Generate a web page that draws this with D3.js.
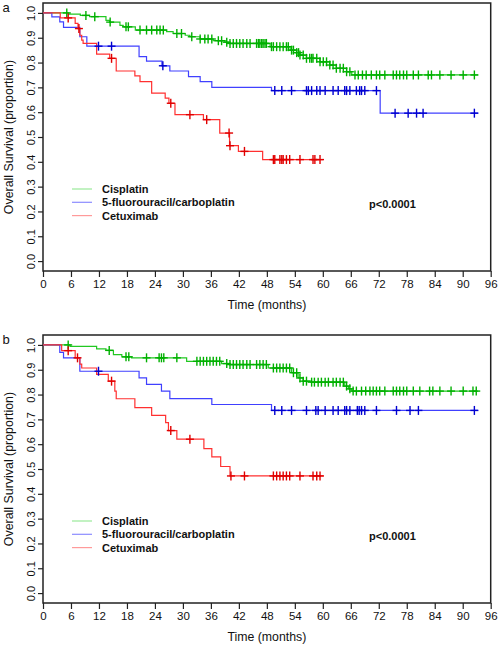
<!DOCTYPE html>
<html><head><meta charset="utf-8">
<script src="https://cdn.jsdelivr.net/npm/d3@7"></script>
<style>
html,body{margin:0;padding:0;background:#fff;}
svg{display:block;font-family:"Liberation Sans",Arial,sans-serif;}
</style></head>
<body>
<svg id="chart" width="499" height="647"></svg>
<script>
// ---------- data ----------
const timeTicks = [0,6,12,18,24,30,36,42,48,54,60,66,72,78,84,90,96];
const survTicks = [0,0.1,0.2,0.3,0.4,0.5,0.6,0.7,0.8,0.9,1.0];
const survTickLabels = ["0.0","0.1","0.2","0.3","0.4","0.5","0.6","0.7","0.8","0.9","1.0"];
const groupNames = ["Cisplatin","5-fluorouracil/carboplatin","Cetuximab"];
const panelLabels = ["a","b"];
const pValues = ["p<0.0001","p<0.0001"];

// panel a: [time, survival] steps
const a_cis_steps = [[0,1],[5.5,0.995],[8,0.99],[10,0.985],[13.5,0.97],[14.3,0.963],[16.5,0.95],[17.2,0.944],[19.8,0.931],[26.5,0.925],[27.9,0.917],[30.5,0.91],[31.5,0.904],[33.7,0.895],[36.5,0.888],[39,0.882],[39.8,0.877],[48.7,0.864],[53,0.85],[54.4,0.84],[55.1,0.83],[56.5,0.817],[59.4,0.803],[61.5,0.79],[62.9,0.777],[65.1,0.763],[66.2,0.75],[93.3,0.75]];
const a_cis_censor = [5.1,9.2,11.1,14.4,17.8,18.3,20.8,22.2,23.3,24.4,25.1,25.8,28.7,29.7,31.9,33.7,34.7,35.4,36.2,37.6,38.3,39.4,40.1,40.8,41.5,42.2,42.9,43.7,44.4,45.8,46.2,46.5,46.9,47.2,47.6,47.9,49.0,49.4,50.1,50.8,51.5,52.2,52.6,53.3,53.7,54.4,54.8,55.1,55.8,56.5,57.2,57.6,57.9,58.7,59.4,60.1,60.8,61.5,62.2,62.9,63.7,64.4,65.1,65.8,66.9,67.6,68.5,69.3,70.4,71.5,72.2,73.3,75.1,75.8,76.5,77.3,78.0,79.4,80.5,82.6,83.3,85.1,87.5,90.1,92.5];
const a_fu_steps = [[0,1],[1.9,0.984],[3.6,0.964],[4.4,0.942],[7.9,0.904],[9.4,0.866],[20.6,0.824],[22.2,0.806],[25.5,0.787],[27.2,0.766],[31.2,0.743],[33.7,0.723],[36.2,0.70],[49,0.687],[72.3,0.596],[93.3,0.596]];
const a_fu_censor = [11.9,14.7,25.7,49.7,51.2,53.3,56.5,56.9,57.6,58.7,59.4,60.5,62.2,63.3,64.7,65.1,65.8,67.2,67.9,68.3,69.0,71.5,75.5,78.3,80.1,81.5,92.5];
const a_cet_steps = [[0,1],[3.7,0.98],[6.9,0.958],[7.5,0.937],[7.9,0.91],[8.3,0.89],[8.6,0.877],[11.5,0.834],[14.3,0.817],[15.7,0.766],[19.7,0.746],[20.8,0.723],[23.3,0.677],[26.2,0.657],[27.0,0.636],[28.3,0.59],[34.4,0.57],[37.9,0.516],[40.0,0.465],[41.9,0.442],[47.1,0.409],[60.1,0.409]];
const a_cet_censor = [5.4,7.7,14.7,27.4,31.5,35.1,39.9,40.1,43.2,49.4,49.7,50.8,51.2,51.5,52.2,52.9,55.1,57.9,58.3,59.4];

// panel b
const b_cis_steps = [[0,1],[5.8,0.994],[11.5,0.984],[13.5,0.978],[15.1,0.961],[16.9,0.952],[19,0.948],[30.8,0.934],[38.3,0.925],[40,0.921],[48.3,0.907],[53.3,0.888],[54.7,0.867],[55.8,0.854],[57.6,0.85],[64.7,0.834],[65.5,0.823],[66.2,0.814],[93.3,0.814]];
const b_cis_censor = [5.4,14.2,17.8,18.4,22.2,24.9,25.4,25.9,28.7,33.0,33.7,34.4,35.1,35.8,36.5,37.2,37.9,39.4,40.1,40.8,41.5,42.2,42.9,43.7,44.4,45.8,46.5,47.2,47.9,49.4,50.1,50.8,51.5,52.2,52.9,53.7,54.4,55.1,55.8,56.5,57.6,58.2,59.0,59.7,60.5,61.2,62.2,62.9,63.7,64.4,65.1,65.8,66.5,67.2,68.3,69.2,70.1,70.8,71.5,72.2,73.3,75.1,75.8,76.5,77.3,78.0,79.4,80.8,82.9,83.6,85.1,87.5,90.1,92.2,92.9];
const b_fu_steps = [[0,1],[3.6,0.970],[4.4,0.948],[7.9,0.894],[20.6,0.867],[22.2,0.841],[25.4,0.814],[27.2,0.784],[36.2,0.760],[49,0.736],[93.3,0.736]];
const b_fu_censor = [11.9,49.7,51.2,53.3,56.5,58.5,59.0,60.5,62.2,63.3,64.7,65.1,65.8,67.4,67.8,68.3,69.0,71.5,75.8,78.7,80.5,92.5];
const b_cet_steps = [[0,1],[4,0.977],[6.9,0.948],[7.9,0.923],[8.3,0.907],[11.5,0.881],[14,0.854],[15.4,0.814],[15.7,0.783],[19.7,0.747],[23.3,0.716],[26.3,0.687],[26.9,0.655],[28.7,0.62],[34.5,0.582],[36.2,0.549],[38.1,0.51],[40.1,0.472],[60.1,0.472]];
const b_cet_censor = [5.4,7.4,14.7,27.4,31.5,40.3,43.2,49.4,50.1,50.8,51.5,52.2,52.9,55.1,57.9,58.7,59.4];

// ---------- styles ----------
const lineColors = ["#22c822","#4040ff","#ff3030"];
const markColors = ["#00b000","#0000d0","#e00000"];
const legendColors = ["#9aea9a","#8c8cff","#ff9a9a"];
const font = '"Liberation Sans",Arial,sans-serif';

const panels = [
  {label:panelLabels[0], p:pValues[0], off:0, curves:[[a_cis_steps,a_cis_censor],[a_fu_steps,a_fu_censor],[a_cet_steps,a_cet_censor]]},
  {label:panelLabels[1], p:pValues[1], off:332, curves:[[b_cis_steps,b_cis_censor],[b_fu_steps,b_fu_censor],[b_cet_steps,b_cet_censor]]}
];

const svg = d3.select("#chart");
const L = 43, R = 490.7, T = 3, B = 271;

function survAt(steps, t){
  let s = steps[0][1];
  for (const d of steps){ if (d[0] <= t) s = d[1]; else break; }
  return s;
}

panels.forEach(pn => {
  const g = svg.append("g").attr("transform", `translate(0,${pn.off})`);
  const x = d3.scaleLinear().domain([0,96]).range([L,R]);
  const y = d3.scaleLinear().domain([-0.04,1.04]).range([B,T]);

  g.append("rect").attr("x",L).attr("y",T).attr("width",R-L).attr("height",B-T)
    .attr("fill","none").attr("stroke","#222").attr("stroke-width",1.5);

  const xa = g.append("g").attr("transform",`translate(0,${B})`)
    .call(d3.axisBottom(x).tickValues(timeTicks).tickSize(6).tickPadding(3).tickFormat(d3.format("d")));
  xa.select(".domain").remove();
  xa.selectAll("line").attr("stroke","#222").attr("stroke-width",1.2);
  xa.selectAll("text").attr("font-size",11.5).attr("font-family",font).attr("fill","#111");

  const ya = g.append("g").attr("transform",`translate(${L},0)`)
    .call(d3.axisLeft(y).tickValues(survTicks).tickSize(5).tickFormat((d,i)=>survTickLabels[i]));
  ya.select(".domain").remove();
  ya.selectAll("line").attr("stroke","#222").attr("stroke-width",1.2);
  ya.selectAll(".tick text").attr("font-size",11).attr("font-family",font).attr("fill","#111")
    .attr("text-anchor","middle").attr("dy",0)
    .attr("transform","rotate(-90)").attr("x",0).attr("y",-8.5);

  g.append("text").attr("x",(L+R)/2).attr("y",309).attr("text-anchor","middle")
    .attr("font-size",12.3).attr("font-family",font).attr("fill","#111").text("Time (months)");
  g.append("text").attr("transform",`translate(12.5,${(T+B)/2}) rotate(-90)`).attr("text-anchor","middle")
    .attr("font-size",12.4).attr("font-family",font).attr("fill","#111").text("Overall Survival (proportion)");
  g.append("text").attr("x",2.5).attr("y",12).attr("font-size",13).attr("font-family",font).attr("fill","#111").text(pn.label);

  const line = d3.line().x(d=>x(d[0])).y(d=>y(d[1])).curve(d3.curveStepAfter);
  pn.curves.forEach((c,i) => {
    g.append("path").attr("d",line(c[0])).attr("fill","none")
      .attr("stroke",lineColors[i]).attr("stroke-width",1.2);
  });
  pn.curves.forEach((c,i) => {
    const mk = g.append("g").attr("stroke",markColors[i]).attr("stroke-width",1.4);
    c[1].forEach(t => {
      const cx = x(t), cy = y(survAt(c[0],t));
      mk.append("line").attr("x1",cx-4).attr("x2",cx+4).attr("y1",cy).attr("y2",cy);
      mk.append("line").attr("x1",cx).attr("x2",cx).attr("y1",cy-4.5).attr("y2",cy+4.5);
    });
  });

  const ly0 = 189, ldy = 13.3;
  groupNames.forEach((nm,i) => {
    const yy = ly0 + i*ldy;
    g.append("line").attr("x1",72).attr("x2",92).attr("y1",yy).attr("y2",yy)
      .attr("stroke",legendColors[i]).attr("stroke-width",1.2);
    g.append("text").attr("x",102).attr("y",yy+4).attr("font-size",11).attr("font-weight","bold")
      .attr("font-family",font).attr("fill","#111").text(nm);
  });

  g.append("text").attr("x",369).attr("y",208.3).attr("font-size",11).attr("font-weight","bold")
    .attr("font-family",font).attr("fill","#111").text(pn.p);
});
</script>
</body></html>
